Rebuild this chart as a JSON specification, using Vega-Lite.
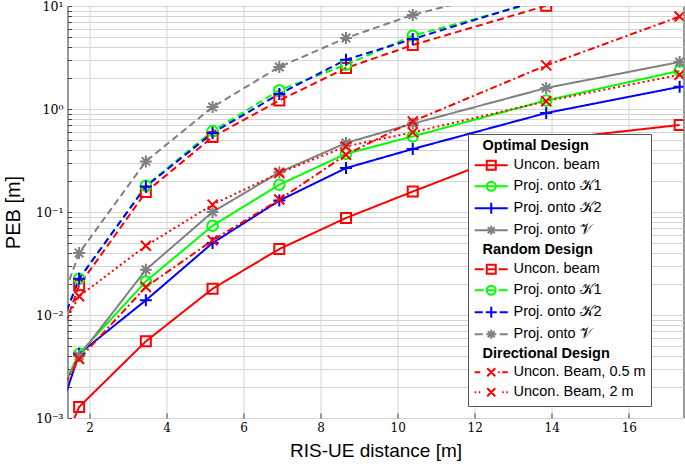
{
  "$schema": "https://vega.github.io/schema/vega-lite/v6.json",
  "width": 616,
  "height": 412,
  "autosize": {"type": "none"},
  "padding": {"left": 67.5, "top": 6, "right": 1, "bottom": 46},
  "background": "white",
  "config": {
    "view": {"stroke": "#333333", "strokeWidth": 1},
    "axis": {"gridColor": "#d4d4d4", "gridWidth": 1, "gridOpacity": 1, "domain": false}
  },
  "data": {
    "values": [
      {"s": "o_u", "x": 1.0, "y": 0.0003}, {"s": "o_u", "x": 1.732, "y": 0.00128}, {"s": "o_u", "x": 3.464, "y": 0.00555}, {"s": "o_u", "x": 5.196, "y": 0.018}, {"s": "o_u", "x": 6.928, "y": 0.0437}, {"s": "o_u", "x": 8.66, "y": 0.0875}, {"s": "o_u", "x": 10.392, "y": 0.158}, {"s": "o_u", "x": 13.856, "y": 0.5}, {"s": "o_u", "x": 17.32, "y": 0.70},
      {"s": "o_k1", "x": 1.0, "y": 0.0012}, {"s": "o_k1", "x": 1.732, "y": 0.0042}, {"s": "o_k1", "x": 3.464, "y": 0.0212}, {"s": "o_k1", "x": 5.196, "y": 0.0736}, {"s": "o_k1", "x": 6.928, "y": 0.184}, {"s": "o_k1", "x": 8.66, "y": 0.368}, {"s": "o_k1", "x": 10.392, "y": 0.542}, {"s": "o_k1", "x": 13.856, "y": 1.21}, {"s": "o_k1", "x": 17.32, "y": 2.35},
      {"s": "o_k2", "x": 1.0, "y": 0.00063}, {"s": "o_k2", "x": 1.732, "y": 0.0042}, {"s": "o_k2", "x": 3.464, "y": 0.0139}, {"s": "o_k2", "x": 5.196, "y": 0.05}, {"s": "o_k2", "x": 6.928, "y": 0.129}, {"s": "o_k2", "x": 8.66, "y": 0.267}, {"s": "o_k2", "x": 10.392, "y": 0.409}, {"s": "o_k2", "x": 13.856, "y": 0.914}, {"s": "o_k2", "x": 17.32, "y": 1.64},
      {"s": "o_v", "x": 1.0, "y": 0.0012}, {"s": "o_v", "x": 1.732, "y": 0.0040}, {"s": "o_v", "x": 3.464, "y": 0.0275}, {"s": "o_v", "x": 5.196, "y": 0.10}, {"s": "o_v", "x": 6.928, "y": 0.243}, {"s": "o_v", "x": 8.66, "y": 0.468}, {"s": "o_v", "x": 10.392, "y": 0.72}, {"s": "o_v", "x": 13.856, "y": 1.6}, {"s": "o_v", "x": 17.32, "y": 2.86},
      {"s": "r_u", "x": 1.0, "y": 0.0033}, {"s": "r_u", "x": 1.732, "y": 0.0194}, {"s": "r_u", "x": 3.464, "y": 0.156}, {"s": "r_u", "x": 5.196, "y": 0.535}, {"s": "r_u", "x": 6.928, "y": 1.21}, {"s": "r_u", "x": 8.66, "y": 2.5}, {"s": "r_u", "x": 10.392, "y": 4.18}, {"s": "r_u", "x": 13.856, "y": 10.07}, {"s": "r_u", "x": 17.32, "y": 18},
      {"s": "r_k1", "x": 1.0, "y": 0.0044}, {"s": "r_k1", "x": 1.732, "y": 0.0225}, {"s": "r_k1", "x": 3.464, "y": 0.18}, {"s": "r_k1", "x": 5.196, "y": 0.61}, {"s": "r_k1", "x": 6.928, "y": 1.52}, {"s": "r_k1", "x": 8.66, "y": 2.69}, {"s": "r_k1", "x": 10.392, "y": 5.15}, {"s": "r_k1", "x": 13.856, "y": 11.5},
      {"s": "r_k2", "x": 1.0, "y": 0.0044}, {"s": "r_k2", "x": 1.732, "y": 0.0225}, {"s": "r_k2", "x": 3.464, "y": 0.177}, {"s": "r_k2", "x": 5.196, "y": 0.585}, {"s": "r_k2", "x": 6.928, "y": 1.40}, {"s": "r_k2", "x": 8.66, "y": 3.01}, {"s": "r_k2", "x": 10.392, "y": 4.78}, {"s": "r_k2", "x": 13.856, "y": 12},
      {"s": "r_v", "x": 1.0, "y": 0.0069}, {"s": "r_v", "x": 1.732, "y": 0.04}, {"s": "r_v", "x": 3.464, "y": 0.31}, {"s": "r_v", "x": 5.196, "y": 1.045}, {"s": "r_v", "x": 6.928, "y": 2.56}, {"s": "r_v", "x": 8.66, "y": 4.89}, {"s": "r_v", "x": 10.392, "y": 8.2}, {"s": "r_v", "x": 13.856, "y": 17.7},
      {"s": "d_05", "x": 1.0, "y": 0.0012}, {"s": "d_05", "x": 1.732, "y": 0.00374}, {"s": "d_05", "x": 3.464, "y": 0.0187}, {"s": "d_05", "x": 5.196, "y": 0.053}, {"s": "d_05", "x": 6.928, "y": 0.132}, {"s": "d_05", "x": 8.66, "y": 0.36}, {"s": "d_05", "x": 10.392, "y": 0.759}, {"s": "d_05", "x": 13.856, "y": 2.65}, {"s": "d_05", "x": 17.32, "y": 7.9},
      {"s": "d_2", "x": 1.0, "y": 0.0048}, {"s": "d_2", "x": 1.732, "y": 0.0152}, {"s": "d_2", "x": 3.464, "y": 0.047}, {"s": "d_2", "x": 5.196, "y": 0.118}, {"s": "d_2", "x": 6.928, "y": 0.239}, {"s": "d_2", "x": 8.66, "y": 0.434}, {"s": "d_2", "x": 10.392, "y": 0.593}, {"s": "d_2", "x": 13.856, "y": 1.19}, {"s": "d_2", "x": 17.32, "y": 2.15}
    ]
  },
  "encoding": {
    "x": {
      "field": "x", "type": "quantitative",
      "scale": {"domain": [1.43, 17.42], "nice": false, "zero": false},
      "axis": {
        "values": [2, 4, 6, 8, 10, 12, 14, 16],
        "grid": true, "ticks": true, "tickSize": -5, "tickColor": "#444",
        "labelFont": "DejaVu Serif", "labelFontSize": 12, "labelColor": "black", "labelPadding": 9,
        "title": "RIS-UE distance [m]", "titleFont": "Liberation Sans", "titleFontSize": 19, "titleFontWeight": "normal", "titleColor": "black",
        "titleBaseline": "alphabetic", "titleY": 38
      }
    },
    "y": {
      "field": "y", "type": "quantitative",
      "scale": {"type": "log", "domain": [0.001, 10], "nice": false},
      "axis": {
        "grid": true, "ticks": true, "tickSize": -4, "tickColor": "#444",
        "labelOverlap": false, "labelBound": false,
        "labelExpr": "abs(datum.value-10)<1e-9 ? '10¹' : abs(datum.value-1)<1e-9 ? '10⁰' : abs(datum.value-0.1)<1e-10 ? '10⁻¹' : abs(datum.value-0.01)<1e-11 ? '10⁻²' : abs(datum.value-0.001)<1e-12 ? '10⁻³' : ''",
        "labelFont": "DejaVu Serif", "labelFontSize": 12.5, "labelColor": "black", "labelPadding": 8.5,
        "title": "PEB [m]", "titleFont": "Liberation Sans", "titleFontSize": 20, "titleFontWeight": "normal", "titleColor": "black",
        "titleX": -54, "titleY": 206, "titleAngle": -90, "titleAlign": "center", "titleBaseline": "middle"
      }
    },
    "color": {
      "field": "s", "type": "nominal",
      "scale": {
        "domain": ["h_opt", "o_u", "o_k1", "o_k2", "o_v", "h_rand", "r_u", "r_k1", "r_k2", "r_v", "h_dir", "d_05", "d_2"],
        "range": ["#ffffff", "#ff0000", "#00ff00", "#0000ff", "#808080", "#ffffff", "#ff0000", "#00ff00", "#0000ff", "#808080", "#ffffff", "#ff0000", "#ff0000"]
      },
      "legend": {
        "orient": "none", "legendX": 400.5, "legendY": 128, "title": null,
        "fillColor": "white", "strokeColor": "#555555", "padding": 5,
        "symbolSize": 100, "symbolStrokeWidth": 2, "symbolOffset": 11, "labelOffset": 15,
        "rowPadding": 3,
        "labelFont": "Liberation Sans", "labelFontSize": 14.5, "labelColor": "black", "labelLimit": 300,
        "labelExpr": "{'h_opt':'Optimal Design','o_u':'Uncon. beam','o_k1':'Proj. onto 𝒦1','o_k2':'Proj. onto 𝒦2','o_v':'Proj. onto 𝒱','h_rand':'Random Design','r_u':'Uncon. beam','r_k1':'Proj. onto 𝒦1','r_k2':'Proj. onto 𝒦2','r_v':'Proj. onto 𝒱','h_dir':'Directional Design','d_05':'Uncon. Beam, 0.5 m','d_2':'Uncon. Beam, 2 m'}[datum.value]",
        "encode": {
          "symbols": {
            "update": {
              "shape": {"signal": "{'h_opt':'M0,0','h_rand':'M0,0','h_dir':'M0,0','o_u':'M-3.3,0H3.3M-0.9,-0.9H0.9V0.9H-0.9Z','o_k1':'M-3.3,0H3.3M-0.9,0A0.9,0.9,0,1,1,0.9,0A0.9,0.9,0,1,1,-0.9,0Z','o_k2':'M-3.3,0H3.3M0,-1.1V1.1','o_v':'M-3.3,0H3.3M0,-0.9V0.9M-0.7,-0.6L0.7,0.6M-0.7,0.6L0.7,-0.6','r_u':'M-3.3,0H-1.5M1.5,0H3.3M-0.9,-0.9H0.9V0.9H-0.9ZM-0.9,0H0.9','r_k1':'M-3.3,0H-1.5M1.5,0H3.3M-0.9,0A0.9,0.9,0,1,1,0.9,0A0.9,0.9,0,1,1,-0.9,0ZM-0.9,0H0.9','r_k2':'M-3.3,0H-1.7M1.7,0H3.3M-1.1,0H1.1M0,-1.1V1.1','r_v':'M-3.3,0H-1.7M1.7,0H3.3M-1,0H1M0,-0.9V0.9M-0.7,-0.6L0.7,0.6M-0.7,0.6L0.7,-0.6','d_05':'M-3.3,0H-2.2M1.4,0H1.7M2.2,0H3.3M-0.8,-0.8L0.8,0.8M-0.8,0.8L0.8,-0.8','d_2':'M-3.3,0H-3.0M-2.5,0H-2.2M2.2,0H2.5M3.0,0H3.3M-0.8,-0.8L0.8,0.8M-0.8,0.8L0.8,-0.8'}[datum.value]"},
              "fill": {"value": "transparent"},
              "strokeWidth": {"value": 2},
              "opacity": {"value": 1}
            }
          },
          "labels": {
            "update": {
              "fontWeight": {"signal": "indexof(['h_opt','h_rand','h_dir'], datum.value) >= 0 ? 'bold' : 'normal'"},
              "dx": {"signal": "indexof(['h_opt','h_rand','h_dir'], datum.value) >= 0 ? -31 : 0"}
            }
          }
        }
      }
    }
  },
  "layer": [
    {
      "mark": {"type": "line", "clip": true, "strokeWidth": 2},
      "encoding": {
        "strokeDash": {
          "field": "s", "type": "nominal", "legend": null,
          "scale": {
            "domain": ["o_u", "o_k1", "o_k2", "o_v", "r_u", "r_k1", "r_k2", "r_v", "d_05", "d_2"],
            "range": [[1, 0], [1, 0], [1, 0], [1, 0], [7, 4], [7, 4], [7, 4], [7, 4], [7, 3, 2, 3], [2, 3]]
          }
        },
        "order": {"field": "x", "type": "quantitative"}
      }
    },
    {
      "mark": {"type": "point", "clip": true, "filled": false, "strokeWidth": 2, "size": 100, "opacity": 1},
      "encoding": {
        "shape": {
          "field": "s", "type": "nominal", "legend": null,
          "scale": {
            "domain": ["o_u", "o_k1", "o_k2", "o_v", "r_u", "r_k1", "r_k2", "r_v", "d_05", "d_2"],
            "range": [
              "M-1,-1H1V1H-1Z",
              "M-1.05,0A1.05,1.05,0,1,1,1.05,0A1.05,1.05,0,1,1,-1.05,0Z",
              "M-1.2,0H1.2M0,-1.2V1.2",
              "M-1.2,0H1.2M0,-1.2V1.2M-0.85,-0.85L0.85,0.85M-0.85,0.85L0.85,-0.85",
              "M-1,-1H1V1H-1Z",
              "M-1.05,0A1.05,1.05,0,1,1,1.05,0A1.05,1.05,0,1,1,-1.05,0Z",
              "M-1.2,0H1.2M0,-1.2V1.2",
              "M-1.2,0H1.2M0,-1.2V1.2M-0.85,-0.85L0.85,0.85M-0.85,0.85L0.85,-0.85",
              "M-1,-1L1,1M-1,1L1,-1",
              "M-1,-1L1,1M-1,1L1,-1"
            ]
          }
        }
      }
    }
  ]
}
